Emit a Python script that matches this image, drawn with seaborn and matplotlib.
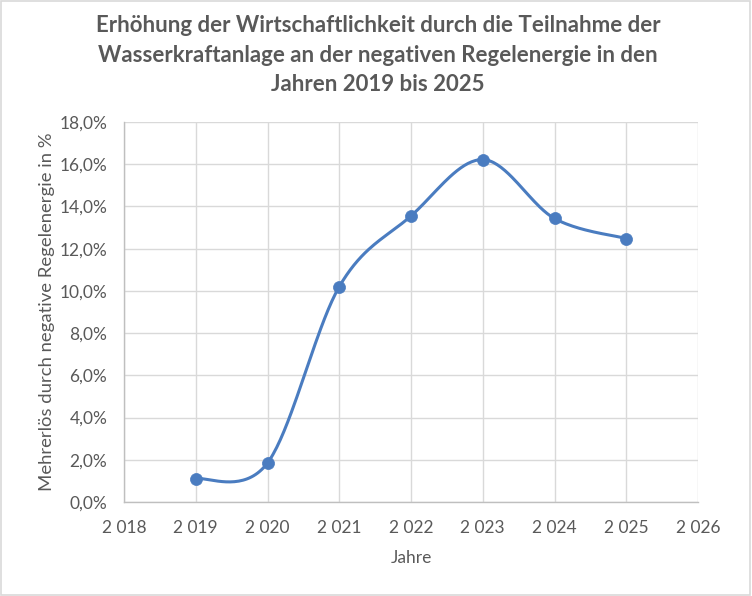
#!/usr/bin/env python3

#---------------------------------------------------------
# Mehrerlös durch negative Regelenergie, 2019 bis 2025
#---------------------------------------------------------
import numpy as np
import pandas as pd
import seaborn as sns
import matplotlib
matplotlib.use("Agg")
import matplotlib.pyplot as plt
from matplotlib.ticker import FuncFormatter, MultipleLocator
from matplotlib.patches import Rectangle

#---------------------------------------------------------
# DATA
#---------------------------------------------------------
years = [2019, 2020, 2021, 2022, 2023, 2024, 2025]
mehrerloes = [1.1, 1.85, 10.2, 13.55, 16.22, 13.43, 12.48]   # in %

title = ("Erhöhung der Wirtschaftlichkeit durch die Teilnahme der\n"
         "Wasserkraftanlage an der negativen Regelenergie in den\n"
         "Jahren 2019 bis 2025")
x_label = "Jahre"
y_label = "Mehrerlös durch negative Regelenergie in %"

LINE_COLOR = "#4A7CC0"
TEXT_COLOR = "#595959"
GRID_COLOR = "#D9D9D9"


def smooth_curve(x, y, n=40):
    # Catmull-Rom through the points, like Excel's "smoothed line"
    x = np.asarray(x, float)
    y = np.asarray(y, float)
    px = np.concatenate([[x[0]], x, [x[-1]]])
    py = np.concatenate([[y[0]], y, [y[-1]]])
    xs, ys = [], []
    for i in range(1, len(px) - 2):
        p0 = np.array([px[i], py[i]])
        p3 = np.array([px[i + 1], py[i + 1]])
        c1 = p0 + (np.array([px[i + 1], py[i + 1]]) - np.array([px[i - 1], py[i - 1]])) / 6
        c2 = p3 - (np.array([px[i + 2], py[i + 2]]) - np.array([px[i], py[i]])) / 6
        t = np.linspace(0, 1, n)[:, None]
        b = ((1 - t) ** 3) * p0 + 3 * ((1 - t) ** 2) * t * c1 + 3 * (1 - t) * t ** 2 * c2 + t ** 3 * p3
        xs.extend(b[:, 0])
        ys.extend(b[:, 1])
    return np.array(xs), np.array(ys)


def main():
    sns.set_theme(style="white")
    plt.rcParams["font.family"] = ["Lato", "DejaVu Sans"]

    df = pd.DataFrame({"Jahr": years, "Wert": mehrerloes})
    sx, sy = smooth_curve(df["Jahr"], df["Wert"])
    curve = pd.DataFrame({"Jahr": sx, "Wert": sy})

    fig = plt.figure(figsize=(7.52, 5.96), dpi=100)
    ax = fig.add_axes([124 / 752, 1 - 502 / 596, (698 - 124) / 752, (502 - 122) / 596])

    sns.lineplot(data=curve, x="Jahr", y="Wert", sort=False, color=LINE_COLOR,
                 linewidth=2.2, ax=ax, zorder=3)
    sns.scatterplot(data=df, x="Jahr", y="Wert", color=LINE_COLOR, s=75,
                    edgecolor=LINE_COLOR, linewidth=0.5, ax=ax, zorder=4)

    ax.set_xlim(2018, 2026)
    ax.set_ylim(0, 18)
    ax.xaxis.set_major_locator(MultipleLocator(1))
    ax.yaxis.set_major_locator(MultipleLocator(2))
    ax.xaxis.set_major_formatter(FuncFormatter(lambda v, p: f"{int(v):,}".replace(",", " ")))
    ax.yaxis.set_major_formatter(FuncFormatter(lambda v, p: f"{v:.1f}%".replace(".", ",")))

    ax.grid(True, color=GRID_COLOR, linewidth=1.0)
    ax.set_axisbelow(True)
    for side in ["top", "right"]:
        ax.spines[side].set_visible(False)
    for side in ["left", "bottom"]:
        ax.spines[side].set_color("#BFBFBF")
        ax.spines[side].set_linewidth(1.0)

    ax.tick_params(axis="x", length=0, pad=13, labelsize=12.5, labelcolor=TEXT_COLOR)
    ax.tick_params(axis="y", length=0, pad=12, labelsize=12.5, labelcolor=TEXT_COLOR)
    ax.set_xlabel(x_label, fontsize=12.5, color=TEXT_COLOR, labelpad=10)
    ax.set_ylabel(y_label, fontsize=13.3, color=TEXT_COLOR, labelpad=3)

    fig.text(378 / 752, 1 - 55 / 596, title, ha="center", va="center",
             fontsize=16, fontweight="bold", color=TEXT_COLOR, linespacing=1.52)

    fig.patches.append(Rectangle((0.001, 0.001), 0.997, 0.997, transform=fig.transFigure,
                                 fill=False, edgecolor="#D9D9D9", linewidth=1.2))

    fig.savefig("out.png", dpi=100, facecolor="white")


if __name__ == "__main__":
    main()
